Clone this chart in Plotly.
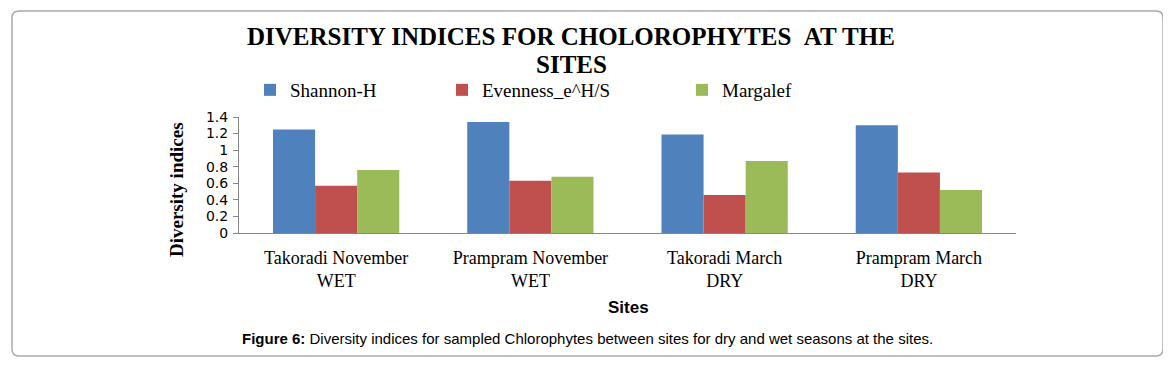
import plotly.graph_objects as go

categories = ["Takoradi November<br>WET", "Prampram November<br>WET",
              "Takoradi March<br>DRY", "Prampram March<br>DRY"]
series_names = ["Shannon-H", "Evenness_e^H/S", "Margalef"]
shannon = [1.25, 1.34, 1.19, 1.30]
evenness = [0.57, 0.63, 0.46, 0.73]
margalef = [0.76, 0.68, 0.87, 0.52]
y_ticks = [0, 0.2, 0.4, 0.6, 0.8, 1, 1.2, 1.4]
y_tick_labels = ["0", "0.2", "0.4", "0.6", "0.8", "1", "1.2", "1.4"]

colors = ["#4F81BD", "#C0504D", "#9BBB59"]
OFF = 8  # page body margin
W, H = 1171 - OFF, 367 - OFF
PL, PR, PT, PB = 239 - OFF, 1016 - OFF, 117 - OFF, 233 - OFF  # plot area in figure pixels

SERIF = "Liberation Serif, Times New Roman, serif"
SANS = "Liberation Sans, Arial, sans-serif"

def px_x(p):  # p in screenshot pixels
    return (p - OFF - PL) / (PR - PL)

def px_y(p):
    return (PB - (p - OFF)) / (PB - PT)

fig = go.Figure()
legend_ids = ["legend", "legend2", "legend3"]
for name, vals, col, lg in zip(series_names, [shannon, evenness, margalef], colors, legend_ids):
    fig.add_trace(go.Bar(x=categories, y=vals, name=name, marker=dict(color=col, line=dict(width=0)),
                         legend=lg))

legend_x = [250, 442, 682]
leg_common = dict(xref="container", yref="container", xanchor="left", yanchor="middle",
                  orientation="h", bgcolor="rgba(0,0,0,0)",
                  font=dict(family=SERIF, size=19, color="#000"), itemwidth=30)
layout_legends = {}
for lg, lx in zip(legend_ids, legend_x):
    layout_legends[lg] = dict(x=(lx - OFF) / W, y=1 - (90 - OFF) / H, **leg_common)

# rounded border
x0, x1, y0, y1, r = 12, 1163, 11, 356, 7
def P(xp, yp):
    return f"{px_x(xp):.5f},{px_y(yp):.5f}"
path = (f"M{P(x0 + r, y0)} L{P(x1 - r, y0)} Q{P(x1, y0)} {P(x1, y0 + r)} "
        f"L{P(x1, y1 - r)} Q{P(x1, y1)} {P(x1 - r, y1)} L{P(x0 + r, y1)} "
        f"Q{P(x0, y1)} {P(x0, y1 - r)} L{P(x0, y0 + r)} Q{P(x0, y0)} {P(x0 + r, y0)} Z")

annotations = [
    dict(text="<b>DIVERSITY INDICES FOR CHOLOROPHYTES \u00a0AT THE</b>", x=px_x(571), y=px_y(36),
         xref="paper", yref="paper", showarrow=False, font=dict(family=SERIF, size=25, color="#000"),
         xanchor="center", yanchor="middle"),
    dict(text="<b>SITES</b>", x=px_x(571), y=px_y(64), xref="paper", yref="paper", showarrow=False,
         font=dict(family=SERIF, size=25, color="#000"), xanchor="center", yanchor="middle"),
    dict(text="<b>Diversity indices</b>", x=px_x(176), y=px_y(190), xref="paper", yref="paper",
         showarrow=False, textangle=-90, font=dict(family=SERIF, size=19, color="#000"),
         xanchor="center", yanchor="middle"),
    dict(text="<b>Sites</b>", x=px_x(628), y=px_y(307), xref="paper", yref="paper", showarrow=False,
         font=dict(family=SANS, size=17, color="#000"), xanchor="center", yanchor="middle"),
    dict(text="<b>Figure 6:</b> Diversity indices for sampled Chlorophytes between sites for dry and wet seasons at the sites.",
         x=px_x(587), y=px_y(338), xref="paper", yref="paper", showarrow=False,
         font=dict(family=SANS, size=15, color="#000"), xanchor="center", yanchor="middle"),
]

fig.update_layout(
    width=W, height=H,
    margin=dict(l=PL, r=W - PR, t=PT, b=H - PB, pad=0, autoexpand=False),
    paper_bgcolor="white", plot_bgcolor="white",
    barmode="group", bargap=0.35, bargroupgap=0,
    showlegend=True,
    xaxis=dict(showline=True, linecolor="#868686", linewidth=1, ticks="", showgrid=False,
               automargin=False,
               tickfont=dict(family=SERIF, size=18, color="#000"), ticklabelstandoff=8),
    yaxis=dict(range=[0, 1.4], tickvals=y_ticks, ticktext=y_tick_labels, showline=True,
               automargin=False,
               linecolor="#868686", linewidth=1, ticks="outside", ticklen=5, tickcolor="#868686",
               showgrid=False, zeroline=False, ticklabelstandoff=2,
               tickfont=dict(family="DejaVu Sans, Verdana, sans-serif", size=14, color="#000")),
    annotations=annotations,
    shapes=[dict(type="path", path=path, xref="paper", yref="paper",
                 line=dict(color="#ababab", width=1.5), fillcolor="rgba(0,0,0,0)")],
    **layout_legends,
)

fig.write_html("out.html")
